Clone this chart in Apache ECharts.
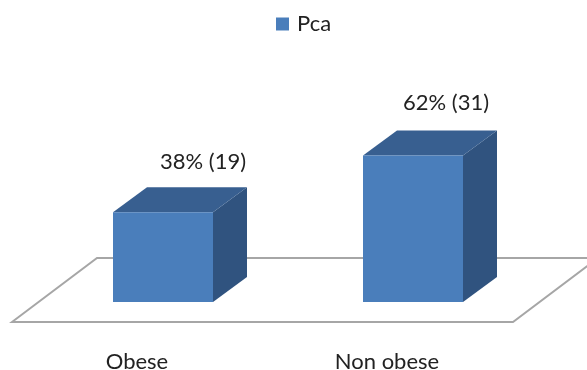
<!DOCTYPE html>
<html>
<head>
<meta charset="utf-8">
<style>html,body{margin:0;padding:0;background:#fff}#chart{width:587px;height:370px}</style>
<script src="https://cdn.jsdelivr.net/npm/echarts@6/dist/echarts.min.js"></script>
</head>
<body>
<div id="chart"></div>
<script>
// Prostate cancer cases by body-weight group
const categories = ['Obese', 'Non obese'];
const counts = [19, 31];
const percents = [38, 62];
const seriesName = 'Pca';

// Extrusion of the pseudo-3D columns and the floor plate around the baseline
const DEPTH_X = 34, DEPTH_Y = 25;
const FLOOR_FRONT = 20, FLOOR_BACK = 44, FLOOR_SKEW = 85;
const LABEL_FONT = 'Lato, "Open Sans", sans-serif';
const TEXT_COLOR = '#222222';
// Value captions sit up and to the right of each column
const captionShift = [[40, -50], [33, -53]];

const chart = echarts.init(document.getElementById('chart'));

function renderFloor(params, api) {
  const cs = params.coordSys;
  const base = api.coord([0, 0])[1];
  const left = cs.x - 26, right = cs.x + cs.width - 25;
  return {
    type: 'polygon',
    shape: { points: [
      [left, base + FLOOR_FRONT],
      [left + FLOOR_SKEW, base - FLOOR_BACK],
      [right + FLOOR_SKEW, base - FLOOR_BACK],
      [right, base + FLOOR_FRONT]
    ] },
    style: { fill: '#ffffff', stroke: '#a6a6a6', lineWidth: 2 }
  };
}

function renderColumn(params, api) {
  const i = params.dataIndex;
  const top = api.coord([api.value(0), api.value(1)]);
  const base = api.coord([api.value(0), 0]);
  const w = api.size([1, 0])[0] * 0.4;
  const x0 = top[0] - w / 2, x1 = top[0] + w / 2;
  const y0 = top[1], y1 = base[1];
  return {
    type: 'group',
    children: [
      { type: 'polygon',
        shape: { points: [[x1, y0], [x1 + DEPTH_X, y0 - DEPTH_Y], [x1 + DEPTH_X, y1 - DEPTH_Y], [x1, y1]] },
        style: { fill: '#30537f' } },
      { type: 'polygon',
        shape: { points: [[x0, y0], [x0 + DEPTH_X, y0 - DEPTH_Y], [x1 + DEPTH_X, y0 - DEPTH_Y], [x1, y0]] },
        style: { fill: '#385f90' } },
      { type: 'rect',
        shape: { x: x0, y: y0, width: w, height: y1 - y0 },
        style: { fill: '#4a7ebb' } },
      { type: 'text',
        style: {
          x: top[0] + captionShift[i][0],
          y: y0 + captionShift[i][1],
          text: percents[i] + '% (' + counts[i] + ')',
          fill: TEXT_COLOR,
          font: '22px ' + LABEL_FONT,
          align: 'center',
          verticalAlign: 'middle'
        } }
    ]
  };
}

chart.setOption({
  animation: false,
  backgroundColor: '#ffffff',
  legend: {
    data: [seriesName],
    left: 276,
    top: 13,
    padding: 0,
    icon: 'rect',
    itemWidth: 13,
    itemHeight: 13,
    itemGap: 8,
    textStyle: { fontFamily: LABEL_FONT, fontSize: 22, color: TEXT_COLOR, padding: [0, 0, 0, 3] }
  },
  grid: { left: 38, width: 500, top: 113, height: 189, outerBoundsMode: 'none' },
  xAxis: {
    type: 'category',
    data: categories,
    axisLine: { show: false },
    axisTick: { show: false },
    axisLabel: {
      margin: 49,
      padding: [0, 52, 0, 0],
      fontFamily: LABEL_FONT,
      fontSize: 22,
      color: TEXT_COLOR
    }
  },
  yAxis: { type: 'value', min: 0, max: 40, show: false },
  series: [
    { type: 'custom', name: 'floor', silent: true, clip: false, z: 1,
      renderItem: renderFloor, data: [[0, 0]], encode: { x: 0, y: 1 } },
    { type: 'custom', name: seriesName, clip: false, z: 2,
      itemStyle: { color: '#4a7ebb' },
      renderItem: renderColumn,
      data: counts.map((v, i) => [i, v]),
      encode: { x: 0, y: 1 } }
  ]
});
</script>
</body>
</html>
